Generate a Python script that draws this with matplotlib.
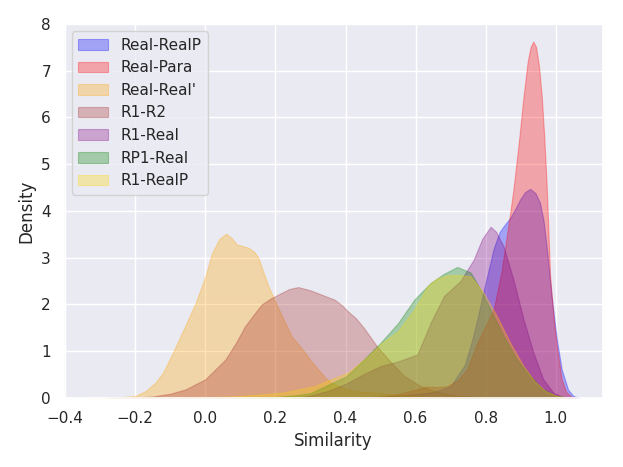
import numpy as np
import matplotlib
matplotlib.use("Agg")
import matplotlib.pyplot as plt
import seaborn as sns

# densities (similarity, density)
real_realp_x = [0.40, 0.50, 0.55, 0.60, 0.65, 0.70, 0.74, 0.76, 0.776, 0.79, 0.804, 0.823, 0.84, 0.851,
                0.87, 0.885, 0.898, 0.912, 0.927, 0.942, 0.955, 0.965, 0.974, 0.988, 1.003, 1.017,
                1.035, 1.05, 1.07]
real_realp_y = [0.0, 0.03, 0.05, 0.08, 0.12, 0.25, 0.7, 1.2, 1.68, 2.15, 2.6, 3.2, 3.55, 3.67,
                3.85, 4.05, 4.24, 4.4, 4.47, 4.38, 4.17, 3.8, 3.24, 2.18, 1.25, 0.61,
                0.18, 0.04, 0.0]

real_para_x = [0.45, 0.50, 0.55, 0.60, 0.63, 0.66, 0.69, 0.72, 0.747, 0.776, 0.80, 0.823, 0.845,
               0.87, 0.879, 0.895, 0.908, 0.92, 0.928, 0.936, 0.944, 0.952, 0.96, 0.967, 0.974,
               0.984, 0.994, 1.003, 1.017, 1.03, 1.045, 1.06]
real_para_y = [0.0, 0.03, 0.08, 0.18, 0.24, 0.23, 0.25, 0.38, 0.61, 1.18, 1.55, 1.9, 2.7,
               3.96, 4.45, 5.5, 6.45, 7.2, 7.5, 7.62, 7.5, 7.1, 6.45, 5.6, 4.55,
               2.6, 1.7, 1.1, 0.4, 0.12, 0.02, 0.0]

real_real2_x = [-0.33, -0.25, -0.20, -0.17, -0.142, -0.12, -0.094, -0.06, -0.028, 0.0, 0.019, 0.04,
                0.059, 0.075, 0.09, 0.11, 0.123, 0.14, 0.151, 0.165, 0.18, 0.203, 0.225, 0.246,
                0.265, 0.284, 0.303, 0.322, 0.34, 0.36, 0.39, 0.416, 0.45, 0.50, 0.55, 0.60,
                0.65, 0.70, 0.76]
real_real2_y = [0.0, 0.01, 0.04, 0.15, 0.33, 0.55, 0.95, 1.5, 2.03, 2.6, 3.1, 3.4,
                3.51, 3.42, 3.28, 3.24, 3.21, 3.12, 3.0, 2.7, 2.39, 2.0, 1.65, 1.32,
                1.15, 0.97, 0.78, 0.61, 0.45, 0.32, 0.22, 0.17, 0.13, 0.1, 0.07, 0.04,
                0.02, 0.01, 0.0]

r1_r2_x = [-0.28, -0.20, -0.15, -0.10, -0.057, 0.0, 0.057, 0.085, 0.113, 0.14, 0.161, 0.185, 0.208,
           0.24, 0.265, 0.30, 0.331, 0.369, 0.39, 0.407, 0.43, 0.454, 0.473, 0.49, 0.53, 0.567,
           0.615, 0.67, 0.72, 0.80, 0.86]
r1_r2_y = [0.0, 0.01, 0.03, 0.09, 0.18, 0.4, 0.82, 1.15, 1.53, 1.8, 2.0, 2.12, 2.21,
           2.33, 2.37, 2.3, 2.21, 2.1, 1.98, 1.85, 1.7, 1.48, 1.28, 1.1, 0.76, 0.47,
           0.25, 0.11, 0.05, 0.01, 0.0]

r1_real_x = [0.25, 0.30, 0.35, 0.40, 0.45, 0.50, 0.55, 0.605, 0.643, 0.681, 0.728, 0.766, 0.79,
             0.814, 0.83, 0.851, 0.879, 0.908, 0.936, 0.964, 0.993, 1.02, 1.04]
r1_real_y = [0.0, 0.05, 0.15, 0.3, 0.5, 0.68, 0.78, 0.93, 1.61, 2.18, 2.5, 2.96, 3.4,
             3.66, 3.55, 3.24, 2.53, 1.68, 0.97, 0.4, 0.11, 0.02, 0.0]

rp1_real_x = [0.15, 0.20, 0.25, 0.30, 0.35, 0.40, 0.45, 0.50, 0.55, 0.596, 0.643, 0.68, 0.719,
              0.757, 0.785, 0.813, 0.851, 0.889, 0.927, 0.96, 1.0, 1.04]
rp1_real_y = [0.0, 0.02, 0.05, 0.1, 0.28, 0.45, 0.8, 1.18, 1.6, 2.1, 2.46, 2.65, 2.8,
              2.68, 2.32, 1.89, 1.32, 0.82, 0.47, 0.2, 0.05, 0.0]

r1_realp_x = [-0.05, 0.0, 0.10, 0.218, 0.312, 0.359, 0.407, 0.464, 0.50, 0.549, 0.596, 0.634, 0.66,
              0.69, 0.72, 0.757, 0.794, 0.832, 0.87, 0.908, 0.94, 0.97, 1.0, 1.04]
r1_realp_y = [0.0, 0.01, 0.04, 0.11, 0.25, 0.4, 0.54, 0.89, 1.15, 1.42, 1.89, 2.39, 2.55,
              2.62, 2.63, 2.6, 2.25, 1.75, 1.18, 0.68, 0.35, 0.15, 0.05, 0.0]

names = ["Real-RealP", "Real-Para", "Real-Real'", "R1-R2", "R1-Real", "RP1-Real", "R1-RealP"]
xs = [real_realp_x, real_para_x, real_real2_x, r1_r2_x, r1_real_x, rp1_real_x, r1_realp_x]
ys = [real_realp_y, real_para_y, real_real2_y, r1_r2_y, r1_real_y, rp1_real_y, r1_realp_y]
colors = ["blue", "red", "orange", "brown", "purple", "green", "gold"]

sns.set_theme(style="darkgrid")

fig, ax = plt.subplots(figsize=(6.23, 4.67), dpi=100)
fig.subplots_adjust(left=0.103, right=0.968, top=0.949, bottom=0.148)

for name, x, y, c in zip(names, xs, ys, colors):
    ax.fill_between(np.array(x), np.array(y), color=c, alpha=0.3, linewidth=0.8, label=name)

ax.set_xlim(-0.403, 1.135)
ax.set_ylim(0, 8)
ax.set_xlabel("Similarity")
ax.set_ylabel("Density")
ax.legend(loc="upper left")

fig.savefig("out.png", dpi=100)
